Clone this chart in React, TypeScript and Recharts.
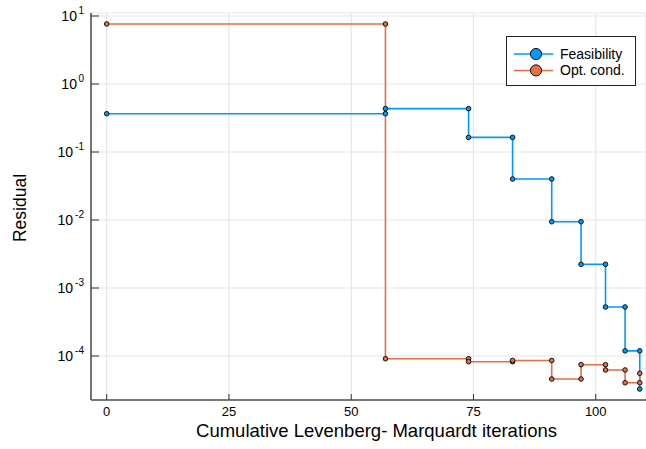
import React from 'react';
import { ComposedChart, Line, XAxis, YAxis, CartesianGrid } from 'recharts';

const iterations = [0, 57, 74, 83, 91, 97, 102, 106, 109];
const feasibility = [0.366, 0.434, 0.164, 0.0401, 0.00944, 0.00223, 0.000526, 0.000119, 0.0000327];
const optCond = [7.63, 0.0000912, 0.0000825, 0.000086, 0.0000459, 0.0000745, 0.0000623, 0.0000405, 0.0000557];
const xTicks = [0, 25, 50, 75, 100];
const yTicks = [1e-4, 1e-3, 1e-2, 1e-1, 1, 10];
const seriesNames = ['Feasibility', 'Opt. cond.'];
const colors = ['#009AFA', '#E26F46'];

// steppost path with markers at both corners of each step
function stepPath(xs: number[], ys: number[]) {
  const pts: { x: number; y: number }[] = [];
  xs.forEach((x, i) => {
    if (i > 0) pts.push({ x, y: ys[i - 1] });
    pts.push({ x, y: ys[i] });
  });
  return pts;
}

const feasPath = stepPath(iterations, feasibility);
const optPath = stepPath(iterations, optCond);

const FONT = '"Liberation Sans", Arial, Helvetica, sans-serif';

const YTick = (props: any) => {
  const { x, y, payload } = props;
  const exp = Math.round(Math.log10(payload.value));
  return (
    <g>
      <line x1={x} x2={x + 8} y1={y} y2={y} stroke="#333" strokeWidth={1} />
      <text x={x - 7} y={y + 5} textAnchor="end" fontFamily={FONT} fill="#000">
        <tspan fontSize={14}>10</tspan>
        <tspan fontSize={10} dx={exp < 0 ? 2 : 1.5} dy={-7}>{String(exp)}</tspan>
      </text>
    </g>
  );
};

const XTick = (props: any) => {
  const { x, y, payload } = props;
  return (
    <g>
      <line x1={x} x2={x} y1={y - 6} y2={y} stroke="#333" strokeWidth={1} />
      <text x={x} y={y + 16} textAnchor="middle" fontFamily={FONT} fontSize={13} fill="#000">
        {payload.value}
      </text>
    </g>
  );
};

const Dot = (color: string) => (props: any) => {
  const { cx, cy, index } = props;
  if (cx == null || cy == null) return <g key={index} />;
  return <circle key={index} cx={cx} cy={cy} r={2.3} fill={color} stroke="#111" strokeWidth={1} />;
};

const LegendBox = () => (
  <svg width={131} height={51} style={{ display: 'block' }}>
    <rect x={0.5} y={0.5} width={129} height={49} fill="#fff" stroke="#222" strokeWidth={1} />
    {seriesNames.map((name, i) => (
      <g key={name}>
        <line x1={8} x2={47} y1={18 + i * 16.4} y2={18 + i * 16.4} stroke={colors[i]} strokeWidth={1.5} />
        <circle cx={30} cy={18 + i * 16.4} r={5.6} fill={colors[i]} stroke="#111" strokeWidth={1} />
        <text x={54} y={23 + i * 16.4} fontFamily={FONT} fontSize={14} fill="#000">{name}</text>
      </g>
    ))}
  </svg>
);

export default function App() {
  return (
    <div style={{ position: 'absolute', left: 0, top: 0, width: 646, height: 449, background: '#fff' }}>
      <ComposedChart width={646} height={449} margin={{ top: 13, right: 0, bottom: 0, left: 0 }}>
        <CartesianGrid stroke="#e6e6e6" strokeWidth={1.2} />
        <XAxis
          type="number"
          dataKey="x"
          domain={[-3.21, 110.28]}
          ticks={xTicks}
          allowDataOverflow
          height={49}
          tickSize={0}
          tickMargin={0}
          tickLine={false}
          axisLine={{ stroke: '#000', strokeWidth: 1.2 }}
          tick={<XTick />}
          interval={0}
          label={{
            content: (p: any) => {
              const vb = p.viewBox;
              return (
                <text x={vb.x + vb.width / 2 + 8} y={437} textAnchor="middle" fontFamily={FONT} fontSize={18.5} fill="#000">
                  Cumulative Levenberg- Marquardt iterations
                </text>
              );
            },
          }}
        />
        <YAxis
          type="number"
          scale="log"
          domain={[2.254e-5, 11.07]}
          ticks={yTicks}
          allowDataOverflow
          width={91}
          tickSize={0}
          tickMargin={0}
          tickLine={false}
          axisLine={{ stroke: '#555', strokeWidth: 1.6 }}
          tick={<YTick />}
          interval={0}
          label={{
            content: () => (
              <text x={26} y={208} transform="rotate(-90 26 208)" textAnchor="middle" fontFamily={FONT} fontSize={17.5} fill="#000">
                Residual
              </text>
            ),
          }}
        />
        <Line
          data={feasPath}
          dataKey="y"
          type="linear"
          stroke={colors[0]}
          strokeWidth={1.6}
          dot={Dot(colors[0])}
          activeDot={false}
          isAnimationActive={false}
          name={seriesNames[0]}
        />
        <Line
          data={optPath}
          dataKey="y"
          type="linear"
          stroke={colors[1]}
          strokeWidth={1.6}
          dot={Dot(colors[1])}
          activeDot={false}
          isAnimationActive={false}
          name={seriesNames[1]}
        />
      </ComposedChart>
      <div style={{ position: 'absolute', left: 506, top: 36 }}>
        <LegendBox />
      </div>
    </div>
  );
}
